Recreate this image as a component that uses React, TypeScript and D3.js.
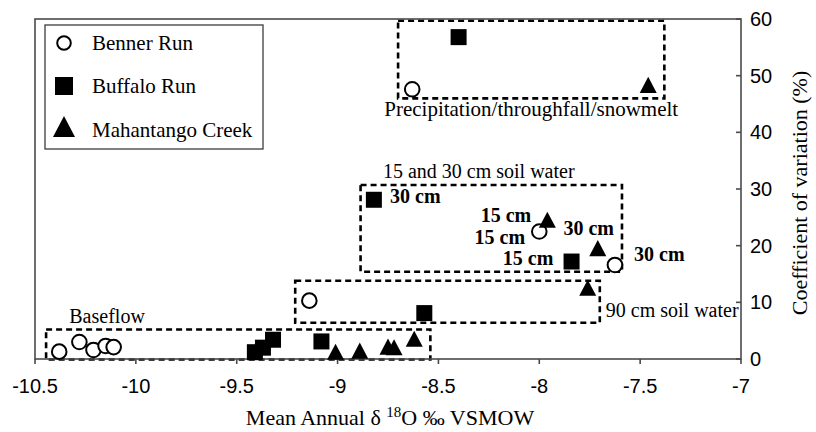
import React from "react";
import * as d3 from "d3";

// ---------- data ----------
const series = ["Benner Run", "Buffalo Run", "Mahantango Creek"];

const bennerX = [-8.63, -8.0, -7.625, -9.14, -10.38, -10.28, -10.21, -10.15, -10.11];
const bennerY = [47.6, 22.5, 16.6, 10.3, 1.3, 3.0, 1.6, 2.3, 2.1];

const buffaloX = [-8.4, -8.82, -7.84, -8.57, -9.41, -9.37, -9.32, -9.08];
const buffaloY = [56.8, 28.1, 17.2, 8.1, 1.2, 2.0, 3.4, 3.1];

const mahantangoX = [-7.46, -7.96, -7.71, -7.76, -9.01, -8.89, -8.75, -8.72, -8.62];
const mahantangoY = [47.9, 24.1, 19.1, 12.1, 0.8, 1.0, 1.7, 1.6, 3.1];

const xTicks = [-10.5, -10, -9.5, -9, -8.5, -8, -7.5, -7];
const yTicks = [0, 10, 20, 30, 40, 50, 60];

// group boxes (data coords)
const boxNames = ["precip", "soil", "deep", "baseflow"];
const boxX0 = [-8.7, -8.886, -9.21, -10.445];
const boxX1 = [-7.38, -7.59, -7.7, -8.54];
const boxY0 = [46.0, 15.4, 6.4, -0.1];
const boxY1 = [59.7, 30.7, 13.8, 5.2];

// group labels (data coords)
const groupLabels = [
  "Precipitation/throughfall/snowmelt",
  "15 and 30 cm soil water",
  "90 cm soil water",
  "Baseflow",
];
const groupLabelX = [-8.04, -8.3, -7.67, -10.33];
const groupLabelY = [42.9, 31.9, 7.5, 6.35];
const groupLabelAnchor = ["middle", "middle", "start", "start"];

// depth labels (data coords)
const depthLabels = ["30 cm", "15 cm", "15 cm", "30 cm", "15 cm", "30 cm"];
const depthLabelX = [-8.74, -8.04, -8.07, -7.88, -7.93, -7.53];
const depthLabelY = [27.5, 24.2, 20.3, 21.9, 16.6, 17.3];
const depthLabelAnchor = ["start", "end", "end", "start", "end", "start"];

// ---------- layout ----------
const W = 816;
const H = 432;
const left = 35;
const right = 741;
const top = 19;
const bottom = 359;

const serif = "'Liberation Serif', 'Times New Roman', serif";
const sans = "'Liberation Sans', Arial, sans-serif";
const axisColor = "#4a4a4a";

function Circle({ cx, cy, r = 7.3 }: { cx: number; cy: number; r?: number }) {
  return <circle cx={cx} cy={cy} r={r} fill="white" stroke="black" strokeWidth={2} />;
}
function Square({ cx, cy, s = 16 }: { cx: number; cy: number; s?: number }) {
  return <rect x={cx - s / 2} y={cy - s / 2} width={s} height={s} fill="black" />;
}
function Tri({ cx, cy, s = 17 }: { cx: number; cy: number; s?: number }) {
  const h = s * 0.95;
  const p = `M${cx},${cy - (h * 2) / 3} L${cx + s / 2},${cy + h / 3} L${cx - s / 2},${cy + h / 3} Z`;
  return <path d={p} fill="black" />;
}

export default function App() {
  const x = d3.scaleLinear().domain([-10.5, -7]).range([left, right]);
  const y = d3.scaleLinear().domain([0, 60]).range([bottom, top]);

  const benner = d3.zip(bennerX, bennerY);
  const buffalo = d3.zip(buffaloX, buffaloY);
  const mahantango = d3.zip(mahantangoX, mahantangoY);

  const legendY = [43, 86, 130];

  return (
    <svg
      width={W}
      height={H}
      style={{ position: "absolute", left: 0, top: 0, background: "white" }}
    >
      <rect x={0} y={0} width={W} height={H} fill="white" />

      {/* dashed group boxes */}
      {boxNames.map((n, i) => (
        <rect
          key={n}
          x={x(boxX0[i])}
          y={y(boxY1[i])}
          width={x(boxX1[i]) - x(boxX0[i])}
          height={y(boxY0[i]) - y(boxY1[i])}
          fill="none"
          stroke="black"
          strokeWidth={2.6}
          strokeDasharray="6,4"
        />
      ))}

      {/* frame */}
      <rect
        x={left}
        y={top}
        width={right - left}
        height={bottom - top}
        fill="none"
        stroke={axisColor}
        strokeWidth={1.6}
      />

      {/* x ticks */}
      {xTicks.map((t) => (
        <g key={"xt" + t}>
          <line x1={x(t)} x2={x(t)} y1={bottom} y2={bottom + 5} stroke={axisColor} strokeWidth={1.6} />
          <text
            x={x(t)}
            y={bottom + 34}
            textAnchor="middle"
            fontFamily={sans}
            fontSize={20}
            fill="black"
          >
            {t}
          </text>
        </g>
      ))}

      {/* y ticks (right) */}
      {yTicks.map((t) => (
        <g key={"yt" + t}>
          <line x1={right - 5} x2={right} y1={y(t)} y2={y(t)} stroke={axisColor} strokeWidth={1.6} />
          <text
            x={right + 9}
            y={y(t) + 7}
            textAnchor="start"
            fontFamily={sans}
            fontSize={20}
            fill="black"
          >
            {t}
          </text>
        </g>
      ))}

      {/* axis titles */}
      <text x={(left + right) / 2 + 2} y={425} textAnchor="middle" fontFamily={serif} fontSize={22} fill="black">
        Mean Annual δ <tspan dy={-8} fontSize={15}>18</tspan>
        <tspan dy={8}>O ‰ VSMOW</tspan>
      </text>
      <text
        transform={`translate(807, ${(top + bottom) / 2 + 4}) rotate(-90)`}
        textAnchor="middle"
        fontFamily={serif}
        fontSize={22}
        fill="black"
      >
        Coefficient of variation (%)
      </text>

      {/* group labels */}
      {groupLabels.map((l, i) => (
        <text
          key={l}
          x={x(groupLabelX[i])}
          y={y(groupLabelY[i])}
          textAnchor={groupLabelAnchor[i]}
          fontFamily={serif}
          fontSize={i === 0 ? 21 : 20}
          fill="black"
        >
          {l}
        </text>
      ))}

      {/* depth labels */}
      {depthLabels.map((l, i) => (
        <text
          key={"d" + i}
          x={x(depthLabelX[i])}
          y={y(depthLabelY[i])}
          textAnchor={depthLabelAnchor[i]}
          fontFamily={serif}
          fontWeight="bold"
          fontSize={20}
          fill="black"
        >
          {l}
        </text>
      ))}

      {/* points */}
      {benner.map(([a, b], i) => (
        <Circle key={"b" + i} cx={x(a)} cy={y(b)} />
      ))}
      {buffalo.map(([a, b], i) => (
        <Square key={"s" + i} cx={x(a)} cy={y(b)} />
      ))}
      {mahantango.map(([a, b], i) => (
        <Tri key={"t" + i} cx={x(a)} cy={y(b)} />
      ))}

      {/* legend */}
      <rect x={45} y={25} width={218} height={124} fill="white" stroke={axisColor} strokeWidth={1.4} />
      <Circle cx={64} cy={legendY[0]} r={6.8} />
      <Square cx={64} cy={legendY[1]} s={18} />
      <Tri cx={64} cy={legendY[2]} s={22} />
      {series.map((s, i) => (
        <text key={s} x={92} y={legendY[i] + 7} fontFamily={serif} fontSize={21} fill="black">
          {s}
        </text>
      ))}
    </svg>
  );
}
